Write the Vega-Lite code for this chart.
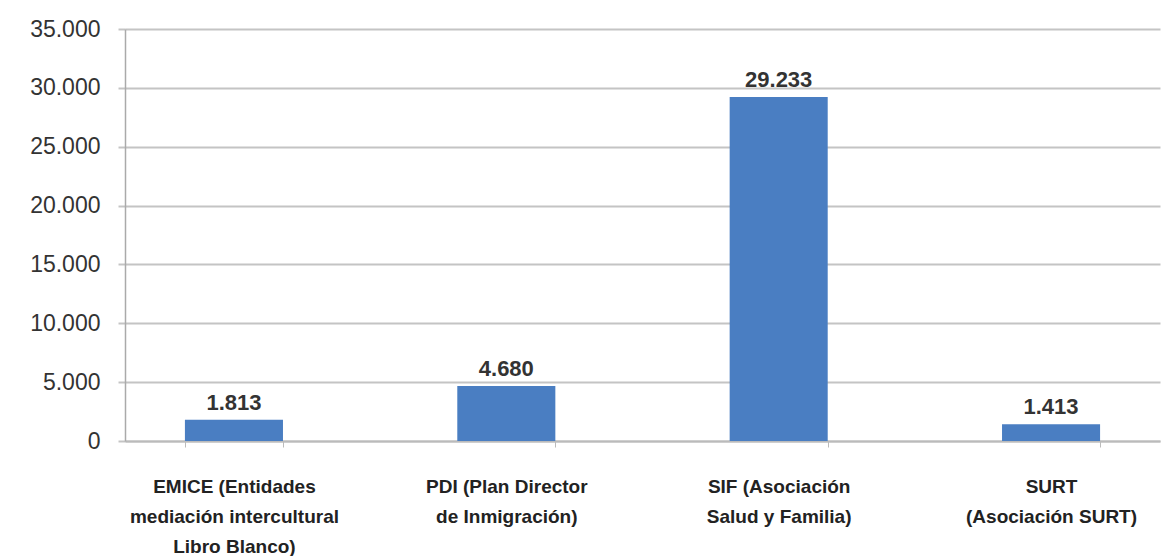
{
  "$schema": "https://vega.github.io/schema/vega-lite/v6.json",
  "autosize": "none",
  "width": 1035,
  "height": 412,
  "padding": {"left": 125, "top": 29, "right": 3, "bottom": 115},
  "background": "white",
  "config": {
    "locale": {"number": {"decimal": ",", "thousands": ".", "grouping": [3], "currency": ["", " €"]}},
    "view": {"stroke": null},
    "font": "Liberation Sans"
  },
  "data": {
    "values": [
      {"cat": "EMICE (Entidades|mediación intercultural|Libro Blanco)", "value": 1813},
      {"cat": "PDI (Plan Director|de Inmigración)", "value": 4680},
      {"cat": "SIF (Asociación|Salud y Familia)", "value": 29233},
      {"cat": "SURT|(Asociación SURT)", "value": 1413}
    ]
  },
  "encoding": {
    "x": {
      "field": "cat", "type": "nominal", "sort": null,
      "scale": {"paddingInner": 0.64, "paddingOuter": 0.22},
      "axis": {
        "title": null, "labelAngle": 0, "labelExpr": "split(datum.label, '|')",
        "labelFont": "Liberation Sans", "labelFontWeight": "bold", "labelFontSize": 19,
        "labelColor": "#222", "labelLineHeight": 30, "labelPadding": 30, "labelLimit": 0,
        "tickBand": "extent", "tickColor": "#bbbbbb", "tickSize": 6,
        "domainColor": "#bbbbbb", "domainWidth": 2
      }
    },
    "y": {
      "field": "value", "type": "quantitative",
      "scale": {"domain": [0, 35000]},
      "axis": {
        "title": null, "values": [0, 5000, 10000, 15000, 20000, 25000, 30000, 35000],
        "format": ",d", "labelFont": "Liberation Sans", "labelFontSize": 23,
        "labelColor": "#333", "labelPadding": 18,
        "gridColor": "#c4c4c4", "gridWidth": 2,
        "tickColor": "#c4c4c4", "tickSize": 7, "tickWidth": 2,
        "domainColor": "#aaaaaa", "domainWidth": 1.5
      }
    }
  },
  "layer": [
    {"mark": {"type": "bar", "color": "#4A7EC2"}},
    {
      "mark": {"type": "text", "baseline": "bottom", "dy": -5, "font": "Liberation Sans", "fontWeight": "bold", "fontSize": 22, "color": "#333"},
      "encoding": {"text": {"field": "value", "type": "quantitative", "format": ",d"}}
    }
  ]
}
